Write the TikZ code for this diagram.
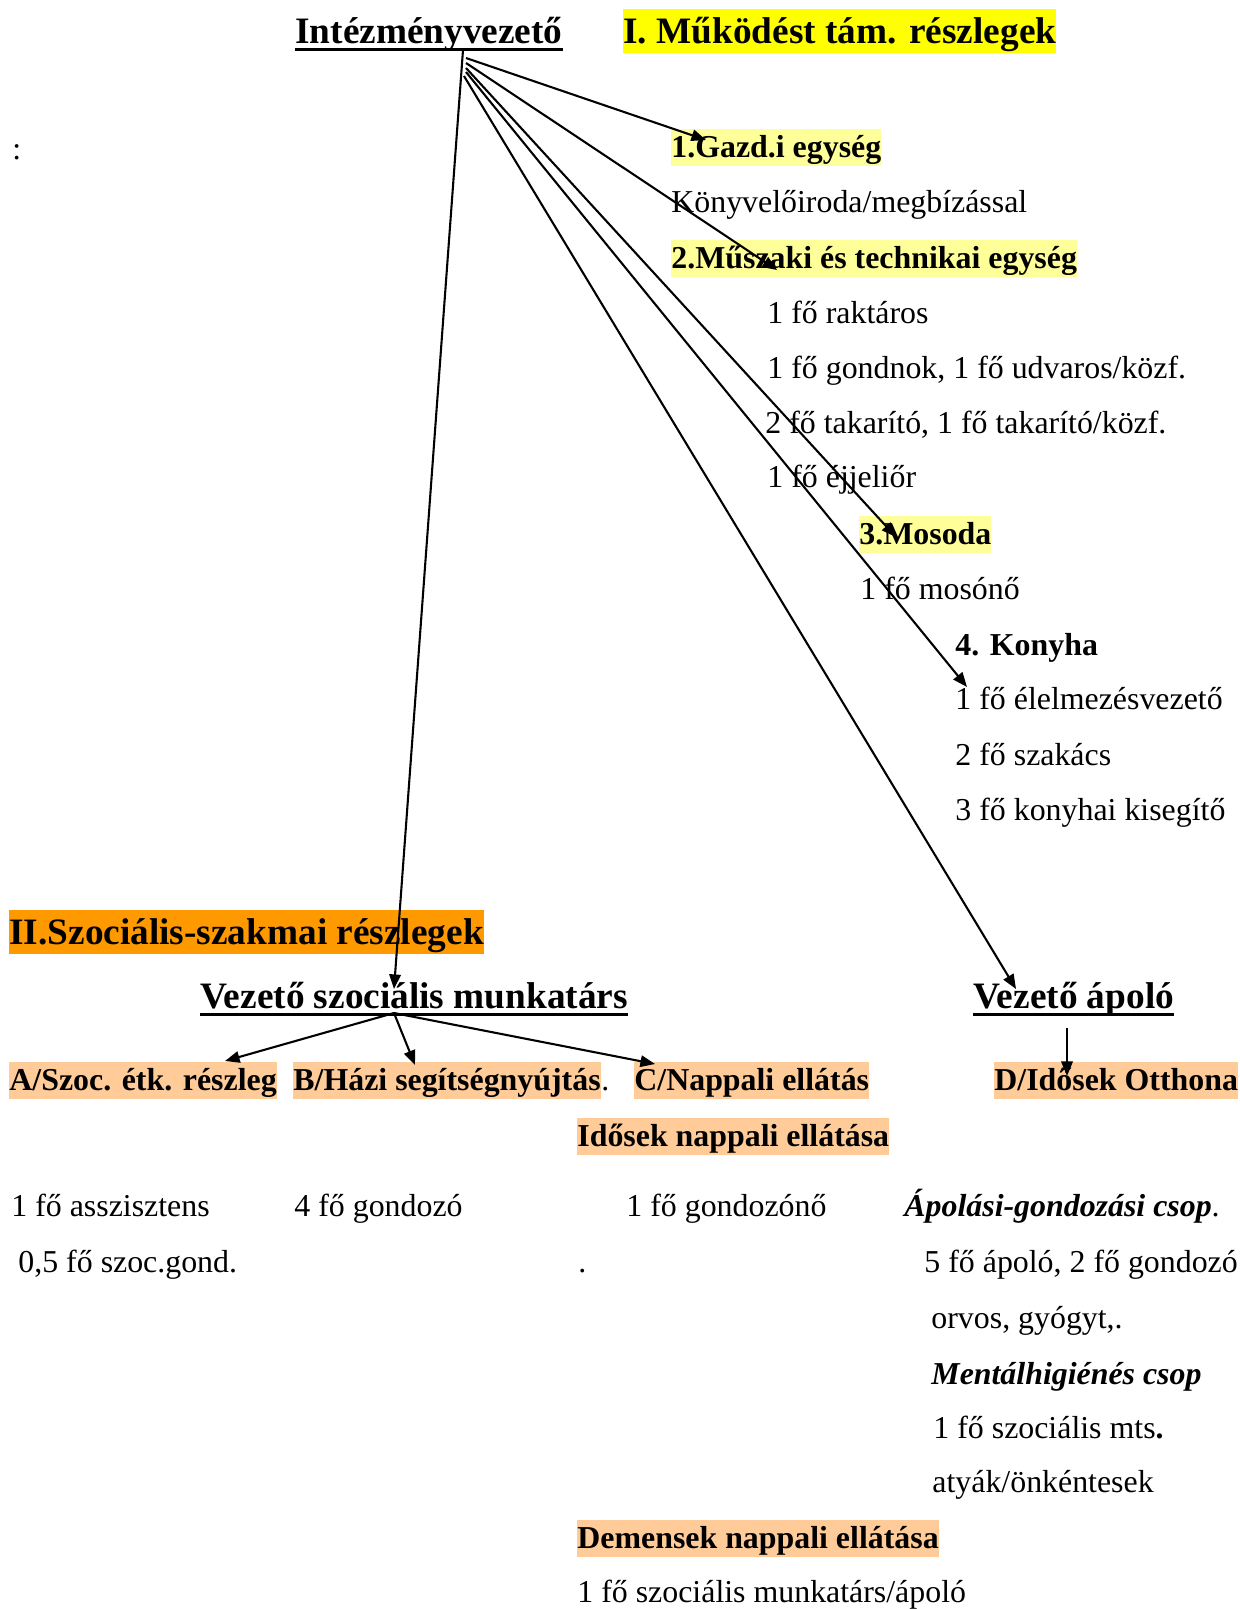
\documentclass[tikz,border=0pt]{standalone}
\usepackage{fontspec}
\setmainfont{Liberation Serif}
\usetikzlibrary{arrows.meta}

\definecolor{hlyellow}{HTML}{FFFF00}
\definecolor{paleyellow}{HTML}{FFFF99}
\definecolor{hlorange}{HTML}{FF9900}
\definecolor{paleorange}{HTML}{FFCC99}

\begin{document}
\begin{tikzpicture}[x=0.48pt,y=-0.48pt,
                    txt/.style={anchor=base west,inner sep=0pt,font=\fontsize{15.3}{18}\selectfont},
                    bold/.style={txt,font=\fontsize{15.3}{18}\selectfont\bfseries},
                    hl/.style={bold,fill=#1,text height=12.5pt,text depth=3.5pt,inner ysep=1pt},
                    head/.style={anchor=base west,inner sep=0pt,text depth=3pt,font=\fontsize{17.9}{21}\selectfont\bfseries},
                    hlhead/.style={head,fill=#1,text height=14.5pt,text depth=3pt,inner ysep=2pt},
                    uline/.style={line width=1.3pt},
                    arr/.style={-{Triangle[length=7pt,width=5.5pt]},line width=1pt}]
  \useasboundingbox (0,0) rectangle (1240,1609);

  % I. part
  \node[head] (iv) at (295,43) {Intézményvezető};
  \draw[uline] (iv.south west) -- (iv.south east);
  \node[hlhead=hlyellow] (mt) at (623,43) {I. Működést tám. részlegek};
  \node[txt] (colon) at (12,159) {:};
  \node[hl=paleyellow] (gazd) at (671,157) {1.Gazd.i egység};
  \node[txt] (konyv) at (671,212) {Könyvelőiroda/megbízással};
  \node[hl=paleyellow] (musz) at (671,268) {2.Műszaki és technikai egység};
  \node[txt] (rakt) at (767,323) {1 fő raktáros};
  \node[txt] (gondn) at (767,378) {1 fő gondnok, 1 fő udvaros/közf.};
  \node[txt] (takar) at (765,433) {2 fő takarító, 1 fő takarító/közf.};
  \node[txt] (ejjel) at (767,487) {1 fő éjjeliőr};
  \node[hl=paleyellow] (mos) at (859,544) {3.Mosoda};
  \node[txt] (mosono) at (860,599) {1 fő mosónő};
  \node[bold] (kony) at (955,655) {4. Konyha};
  \node[txt] (elelm) at (955,709) {1 fő élelmezésvezető};
  \node[txt] (szak) at (955,765) {2 fő szakács};
  \node[txt] (kiseg) at (955,820) {3 fő konyhai kisegítő};

  % II. part
  \node[hlhead=hlorange] (szsz) at (9,944) {II.Szociális-szakmai részlegek};
  \node[head] (vszm) at (200,1008) {Vezető szociális munkatárs};
  \draw[uline] (vszm.south west) -- (vszm.south east);
  \node[head] (vap) at (973,1008) {Vezető ápoló};
  \draw[uline] (vap.south west) -- (vap.south east);
  \node[hl=paleorange] (ra) at (9,1090) {A/Szoc. étk. részleg};
  \node[hl=paleorange] (rb) at (293,1090) {B/Házi segítségnyújtás};
  \node[txt] (rbdot) at (rb.base east) {.};
  \node[hl=paleorange] (rc) at (634,1090) {C/Nappali ellátás};
  \node[hl=paleorange] (rd) at (994,1090) {D/Idősek Otthona};
  \node[hl=paleorange] (inap) at (577,1146) {Idősek nappali ellátása};
  \node[txt] (assz) at (11,1216) {1 fő asszisztens};
  \node[txt] (szgond) at (18,1272) {0,5 fő szoc.gond.};
  \node[txt] (gondozo) at (294,1216) {4 fő gondozó};
  \node[txt] (gondozono) at (626,1216) {1 fő gondozónő};
  \node[txt] (dot) at (578,1272) {.};
  \node[txt] (apol) at (904,1216) {\bfseries\itshape Ápolási-gondozási csop\normalfont.};
  \node[txt] (apolo) at (924,1272) {5 fő ápoló, 2 fő gondozó};
  \node[txt] (orvos) at (931,1328) {orvos, gyógyt,.};
  \node[txt] (mental) at (931,1384) {\bfseries\itshape Mentálhigiénés csop};
  \node[txt] (mts) at (933,1438) {1 fő szociális mts{\bfseries .}};
  \node[txt] (atyak) at (932,1492) {atyák/önkéntesek};
  \node[hl=paleorange] (dnap) at (577,1548) {Demensek nappali ellátása};
  \node[txt] (dmts) at (577,1602) {1 fő szociális munkatárs/ápoló};

  % arrow ends
  \coordinate (iv0) at (463,50);
  \coordinate (iv1) at (466,58);
  \coordinate (iv2) at (466,63);
  \coordinate (iv3) at (466,68);
  \coordinate (iv4) at (466,72);
  \coordinate (iv5) at (464,76);
  \coordinate (gazd-t) at (706,140);
  \coordinate (musz-t) at (777,270);
  \coordinate (mos-t) at (896,537);
  \coordinate (kony-t) at (967,687);
  \coordinate (vap-t) at (1016,989);
  \coordinate (vszm-t) at (394,989);
  \coordinate (vszm-f) at (394,1013);
  \coordinate (ra-t) at (225,1061);
  \coordinate (rb-t) at (415,1065);
  \coordinate (rc-t) at (655,1064);
  \coordinate (vap-f) at (1067,1028);
  \coordinate (rd-t) at (1067,1076);

  \draw[arr] (iv1) -- (gazd-t);
  \draw[arr] (iv2) -- (musz-t);
  \draw[arr] (iv3) -- (mos-t);
  \draw[arr] (iv4) -- (kony-t);
  \draw[arr] (iv5) -- (vap-t);
  \draw[arr] (iv0) -- (vszm-t);
  \draw[arr] (vszm-f) -- (ra-t);
  \draw[arr] (vszm-f) -- (rb-t);
  \draw[arr] (vszm-f) -- (rc-t);
  \draw[arr] (vap-f) -- (rd-t);
\end{tikzpicture}
\end{document}
